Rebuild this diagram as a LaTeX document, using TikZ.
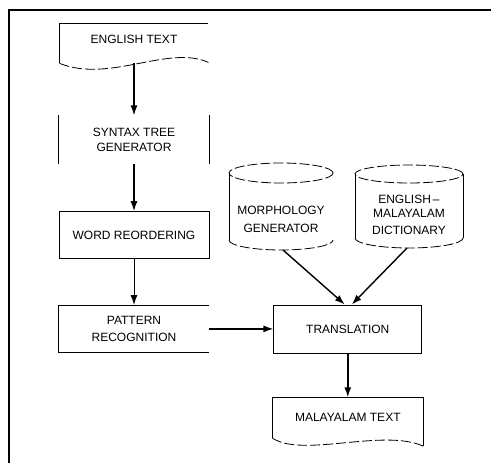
\documentclass[tikz,border=0pt]{standalone}
\usepackage{fontspec}
\setmainfont{Liberation Sans}
\usetikzlibrary{positioning, arrows.meta}

\tikzset{
  box/.style={rectangle, minimum width=150pt, minimum height=47pt, align=center, inner sep=0pt},
  doc/.style={rectangle, minimum width=148pt, minimum height=39pt, align=center, inner sep=0pt},
  store/.style={align=center, inner sep=0pt},
  flow/.style={-{Latex[length=10pt,width=7pt]}, line width=1.4pt},
  wave/.style={dash pattern=on 10pt off 3pt},
}

\begin{document}
\begin{tikzpicture}[x=1pt, y=-1pt, font=\fontsize{12}{13.5}\selectfont, line width=0.8pt]
    \useasboundingbox (0,0) rectangle (491,463);
    \draw[line width=2pt] (8.5,463) -- (8.5,9.5) -- (491,9.5);

    \node[doc, text depth=8pt] (eng) at (134,43.5) {ENGLISH TEXT};
    \node[box, minimum height=48pt, below=52pt of eng] (syn) {SYNTAX TREE\\[1.5pt]GENERATOR};
    \node[box, draw, below=47pt of syn] (word) {WORD REORDERING};
    \node[box, below=46pt of word] (pat) {PATTERN\\[3.5pt]RECOGNITION};
    \node[box, draw, minimum width=148pt, minimum height=48pt, right=64pt of pat] (trans) {TRANSLATION};
    \node[doc, minimum width=150pt, minimum height=40pt, below=44pt of trans] (mal) {MALAYALAM TEXT};

    \node[store] (morph) at (281,219) {MORPHOLOGY\\[4.5pt]GENERATOR};
    \node[store] (dict) at (409,215) {ENGLISH\,--\\MALAYALAM\\[4pt]DICTIONARY};

    % outlines
    \draw (eng.south west) -- (eng.north west) -- (eng.north east);
    \draw[wave] (eng.south west) .. controls +(50pt,-20pt) and +(-40pt,18pt) .. ([yshift=1pt]eng.south east);
    \draw (syn.north west) -- (syn.south west);
    \draw (syn.north east) -- (syn.south east);
    \draw (pat.north east) -- (pat.north west) -- (pat.south west) -- (pat.south east);
    \draw (mal.south west) -- (mal.north west) -- (mal.north east) -- ([yshift=-8pt]mal.south east);
    \draw[wave] (mal.south west) .. controls +(30pt,-20pt) and +(-40pt,18pt) .. ([yshift=-8pt]mal.south east);

    \draw[wave] ([yshift=46pt]morph.center) ellipse [x radius=52pt, y radius=10pt];
    \draw ([shift={(-52pt,46pt)}]morph.center) -- ([shift={(-52pt,-21pt)}]morph.center);
    \draw[wave] ([shift={(-52pt,-21pt)}]morph.center) arc [start angle=180, end angle=360, x radius=52pt, y radius=10pt];

    \draw[wave] ([yshift=41pt]dict.center) ellipse [x radius=54pt, y radius=9pt];
    \draw ([shift={(-54pt,41pt)}]dict.center) -- ([shift={(-54pt,-23pt)}]dict.center);
    \draw ([shift={(54pt,41pt)}]dict.center) -- ([shift={(54pt,-23pt)}]dict.center);
    \draw[wave] ([shift={(-54pt,-23pt)}]dict.center) arc [start angle=180, end angle=360, x radius=54pt, y radius=10pt];

    \coordinate (morphbot) at ([shift={(2pt,-31pt)}]morph.center);
    \coordinate (dictbot) at ([shift={(-2pt,-33pt)}]dict.center);

    \draw[flow] (eng.south) -- (syn.north);
    \draw[flow] (syn.south) -- (word.north);
    \draw[flow, line width=1pt] (word.south) -- (pat.north);
    \draw[flow] (pat.east) -- (trans.west);
    \draw[flow] (morphbot) -- ([xshift=-3pt]trans.north);
    \draw[flow] (dictbot) -- ([xshift=4pt]trans.north);
    \draw[flow] (trans.south) -- (mal.north);
\end{tikzpicture}
\end{document}
